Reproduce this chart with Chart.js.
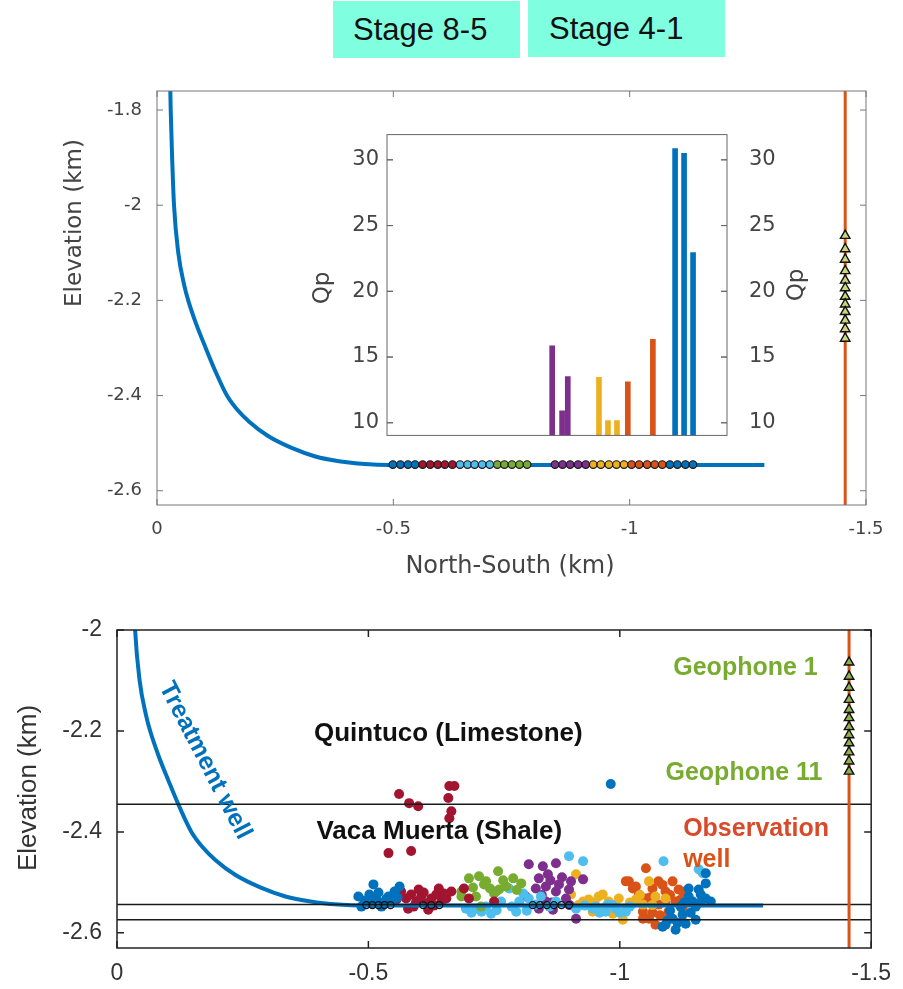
<!DOCTYPE html>
<html>
<head>
<meta charset="utf-8">
<script src="https://cdn.jsdelivr.net/npm/chart.js@4"></script>
<style>
body { margin: 0; background: #fff; }
#page { position: relative; width: 903px; height: 989px; overflow: hidden; background: #fff; }
.stage { position: absolute; background: #7fffdf; color: #111; font: 31px "Liberation Sans", Arial, sans-serif; line-height: 57px; height: 57px; box-sizing: border-box; }
.holder { position: absolute; }
</style>
</head>
<body>
<div id="page">
  <div class="stage" style="left:333px; top:1px; width:187px; padding-left:20px;">Stage 8-5</div>
  <div class="stage" style="left:528px; top:0px; width:197px; padding-left:21px;">Stage 4-1</div>
  <div class="holder" style="left:0; top:60px; width:903px; height:530px;"><canvas id="topChart"></canvas></div>
  <div class="holder" style="left:290px; top:100px; width:530px; height:370px;"><canvas id="insetChart"></canvas></div>
  <div class="holder" style="left:0; top:600px; width:903px; height:389px;"><canvas id="bottomChart"></canvas></div>
</div>

<script>
// ---- data (km) ----

const nsTicks = [0, -0.5, -1, -1.5];
const topElevTicks = [-1.8, -2, -2.2, -2.4, -2.6];
const bottomElevTicks = [-2, -2.2, -2.4, -2.6];
const qpTicks = [10, 15, 20, 25, 30];

// treatment well trajectory
const wellNS   = [-0.027, -0.029, -0.032, -0.036, -0.045, -0.058, -0.066, -0.083, -0.103, -0.124, -0.148, -0.170, -0.195, -0.235, -0.285, -0.335, -0.385, -0.440, -0.490, -1.285];
const wellElev = [-1.70, -1.80, -1.90, -2.00, -2.10, -2.17, -2.20, -2.25, -2.30, -2.35, -2.40, -2.43, -2.455, -2.485, -2.51, -2.528, -2.538, -2.544, -2.546, -2.546];

// perforation clusters along the lateral
const perfElev = -2.545;
const perfNS = [-0.499, -0.515, -0.531, -0.546, -0.562, -0.578, -0.594, -0.609, -0.625, -0.641, -0.657, -0.672, -0.688, -0.704, -0.720, -0.735, -0.751, -0.767, -0.783,
                -0.842, -0.858, -0.874, -0.891, -0.907, -0.923, -0.939, -0.956, -0.972, -0.988, -1.004, -1.020, -1.037, -1.053, -1.069, -1.085, -1.101, -1.118, -1.134];
const perfGroup = ['blue', 'blue', 'blue', 'blue', 'crimson', 'crimson', 'crimson', 'crimson', 'crimson', 'lightblue', 'lightblue', 'lightblue', 'lightblue', 'lightblue', 'green', 'green', 'green', 'green', 'green',
                   'purple', 'purple', 'purple', 'purple', 'purple', 'yellow', 'yellow', 'yellow', 'yellow', 'yellow', 'orange', 'orange', 'orange', 'orange', 'orange', 'blue', 'blue', 'blue', 'blue'];
const perfOpenNS = [-0.496, -0.508, -0.520, -0.532, -0.544, -0.609, -0.625, -0.641, -0.827, -0.841, -0.855, -0.869, -0.884, -0.899];

// Qp per perforation (inset)
const qpNS     = [-0.836, -0.857, -0.869, -0.935, -0.954, -0.973, -0.996, -1.049, -1.096, -1.115, -1.134];
const qpValues = [15.86, 10.91, 13.52, 13.46, 10.16, 10.16, 13.11, 16.34, 30.85, 30.5, 22.94];
const qpGroup  = ['purple', 'purple', 'purple', 'yellow', 'yellow', 'yellow', 'orange', 'orange', 'blue', 'blue', 'blue'];

// observation well and geophones
const obsWellNS = -1.456;
const geophoneElev = [-2.064, -2.092, -2.114, -2.138, -2.158, -2.174, -2.192, -2.208, -2.224, -2.242, -2.260, -2.280];

// formation boundaries
const layerElev = [-2.345, -2.544, -2.574];

// microseismic events [NS, elevation]
const blueEvents = [[-0.480, -2.528], [-0.486, -2.548], [-0.502, -2.524], [-0.506, -2.542], [-0.510, -2.504], [-0.516, -2.532], [-0.526, -2.548], [-0.536, -2.532],
  [-0.540, -2.528], [-0.546, -2.538], [-0.552, -2.518], [-0.562, -2.508], [-0.492, -2.536], [-0.520, -2.520], [-0.530, -2.540], [-0.558, -2.530],
  [-0.982, -2.305],
  [-1.085, -2.588], [-1.091, -2.584], [-1.105, -2.572], [-1.111, -2.594], [-1.121, -2.548], [-1.125, -2.564], [-1.131, -2.582], [-1.137, -2.512], [-1.137, -2.528],
  [-1.145, -2.538], [-1.151, -2.574], [-1.151, -2.548], [-1.157, -2.514], [-1.161, -2.524], [-1.171, -2.502], [-1.171, -2.532], [-1.171, -2.482], [-1.181, -2.538],
  [-1.100, -2.556], [-1.115, -2.580], [-1.141, -2.560], [-1.160, -2.540], [-1.128, -2.540], [-1.095, -2.575]];
const crimsonEvents = [[-0.561, -2.325], [-0.581, -2.343], [-0.599, -2.349], [-0.661, -2.309], [-0.671, -2.309], [-0.659, -2.333], [-0.665, -2.359], [-0.661, -2.373],
  [-0.540, -2.442], [-0.585, -2.438], [-0.556, -2.534], [-0.565, -2.518], [-0.575, -2.532], [-0.579, -2.552], [-0.585, -2.524], [-0.595, -2.538], [-0.605, -2.528],
  [-0.615, -2.542], [-0.619, -2.554], [-0.625, -2.532], [-0.635, -2.524], [-0.645, -2.538], [-0.655, -2.532], [-0.665, -2.518], [-0.690, -2.512], [-0.700, -2.532], [-0.750, -2.538],
  [-0.590, -2.548], [-0.610, -2.520], [-0.630, -2.546], [-0.650, -2.522], [-0.600, -2.514], [-0.640, -2.512]];
const greenEvents = [[-0.685, -2.518], [-0.685, -2.528], [-0.700, -2.492], [-0.714, -2.528], [-0.724, -2.548], [-0.730, -2.504], [-0.734, -2.498], [-0.750, -2.522],
  [-0.758, -2.478], [-0.760, -2.514], [-0.774, -2.508], [-0.788, -2.492], [-0.804, -2.502], [-0.708, -2.510], [-0.742, -2.512], [-0.768, -2.496], [-0.720, -2.488], [-0.795, -2.515]];
const lightBlueEvents = [[-0.694, -2.552], [-0.714, -2.552], [-0.734, -2.548], [-0.744, -2.562], [-0.754, -2.518], [-0.764, -2.538], [-0.780, -2.512], [-0.794, -2.558],
  [-0.800, -2.538], [-0.808, -2.522], [-0.819, -2.532], [-0.833, -2.544], [-0.843, -2.528], [-0.873, -2.538], [-0.899, -2.448], [-0.913, -2.552], [-0.927, -2.458],
  [-0.946, -2.552], [-0.952, -2.548], [-0.972, -2.558], [-0.976, -2.544], [-0.992, -2.552], [-1.012, -2.558], [-1.087, -2.458], [-1.157, -2.474], [-1.165, -2.482],
  [-0.705, -2.560], [-0.725, -2.558], [-0.755, -2.555], [-0.785, -2.548], [-0.815, -2.556], [-0.860, -2.548], [-0.930, -2.546], [-0.960, -2.560], [-0.985, -2.545],
  [-1.000, -2.560], [-1.020, -2.548]];
const purpleEvents = [[-0.813, -2.528], [-0.819, -2.464], [-0.833, -2.512], [-0.839, -2.492], [-0.839, -2.552], [-0.847, -2.468], [-0.853, -2.508], [-0.853, -2.538],
  [-0.857, -2.484], [-0.867, -2.554], [-0.873, -2.462], [-0.873, -2.518], [-0.879, -2.504], [-0.893, -2.532], [-0.899, -2.514], [-0.903, -2.498], [-0.913, -2.572], [-0.927, -2.494],
  [-0.845, -2.525], [-0.862, -2.496], [-0.885, -2.490], [-0.865, -2.540], [-0.900, -2.545]];
const yellowEvents = [[-0.903, -2.524], [-0.913, -2.484], [-0.927, -2.538], [-0.938, -2.534], [-0.946, -2.558], [-0.958, -2.528], [-0.966, -2.524], [-0.978, -2.538],
  [-0.986, -2.562], [-0.998, -2.532], [-1.006, -2.574], [-1.012, -2.552], [-1.032, -2.534], [-1.046, -2.544], [-1.058, -2.498], [-1.071, -2.528], [-1.091, -2.532],
  [-0.918, -2.545], [-0.950, -2.540], [-0.970, -2.550], [-0.990, -2.545], [-1.020, -2.540], [-1.040, -2.525], [-1.065, -2.545]];
const orangeEvents = [[-1.012, -2.498], [-1.018, -2.498], [-1.026, -2.512], [-1.032, -2.508], [-1.038, -2.524], [-1.046, -2.558], [-1.046, -2.572], [-1.052, -2.472],
  [-1.052, -2.532], [-1.058, -2.572], [-1.065, -2.512], [-1.071, -2.584], [-1.077, -2.498], [-1.077, -2.544], [-1.091, -2.518], [-1.091, -2.538], [-1.097, -2.558],
  [-1.105, -2.498], [-1.111, -2.538], [-1.117, -2.514], [-1.125, -2.552], [-1.125, -2.518], [-1.131, -2.524],
  [-1.030, -2.540], [-1.060, -2.530], [-1.085, -2.505], [-1.100, -2.525], [-1.080, -2.565], [-1.065, -2.560], [-1.120, -2.535]];

const colors = {
  blue: '#0072BD', orange: '#D95319', yellow: '#EDB120', purple: '#7E2F8E',
  green: '#77AC30', lightblue: '#4DBEEE', crimson: '#A2142F'
};

// ---- helpers ----

const pts = (xs, ys) => xs.map((x, i) => ({x: x, y: ys[i]}));
const pairs = arr => arr.map(p => ({x: p[0], y: p[1]}));
const fixTicks = vals => scale => { scale.ticks = vals.map(v => ({value: v})); };

// box around the plot area with inward ticks (matlab style)
const boxPlugin = {
  id: 'box',
  afterDatasetsDraw(chart, args, opts) {
    const ctx = chart.ctx, a = chart.chartArea;
    ctx.save();
    ctx.strokeStyle = opts.color;
    ctx.lineWidth = opts.width;
    ctx.strokeRect(a.left, a.top, a.right - a.left, a.bottom - a.top);
    const L = opts.tick;
    ctx.beginPath();
    Object.values(chart.scales).forEach(s => {
      if (!s.options.display) return;
      s.ticks.forEach(t => {
        const p = s.getPixelForValue(t.value);
        if (s.isHorizontal()) {
          if (p < a.left - 0.5 || p > a.right + 0.5) return;
          ctx.moveTo(p, a.bottom); ctx.lineTo(p, a.bottom - L);
          ctx.moveTo(p, a.top); ctx.lineTo(p, a.top + L);
        } else {
          if (p < a.top - 0.5 || p > a.bottom + 0.5) return;
          ctx.moveTo(a.left, p); ctx.lineTo(a.left + L, p);
          ctx.moveTo(a.right, p); ctx.lineTo(a.right - L, p);
        }
      });
    });
    ctx.stroke();
    ctx.restore();
  }
};

// free text: canvas coords, or data coords when data:true
const textPlugin = {
  id: 'texts',
  afterDraw(chart, args, opts) {
    const ctx = chart.ctx;
    (opts.items || []).forEach(t => {
      let x = t.x, y = t.y;
      if (t.data) {
        x = chart.scales.x.getPixelForValue(t.x);
        y = chart.scales.y.getPixelForValue(t.y);
      }
      ctx.save();
      ctx.translate(x, y);
      ctx.rotate((t.rot || 0) * Math.PI / 180);
      ctx.font = t.font;
      ctx.fillStyle = t.color;
      ctx.textAlign = t.align || 'center';
      ctx.textBaseline = 'middle';
      ctx.fillText(t.text, 0, 0);
      ctx.restore();
    });
  }
};

// white background for the inset plot area
const insetBg = {
  id: 'insetBg',
  beforeDatasetsDraw(chart) {
    const a = chart.chartArea, ctx = chart.ctx;
    ctx.save();
    ctx.fillStyle = '#fff';
    ctx.fillRect(a.left, a.top, a.right - a.left, a.bottom - a.top);
    ctx.restore();
  }
};

Chart.defaults.animation = false;
Chart.defaults.plugins.legend.display = false;
Chart.defaults.plugins.tooltip.enabled = false;

const topFont = '"DejaVu Sans", sans-serif';
const botFont = '"Liberation Sans", Arial, sans-serif';

// ---- top panel: well geometry ----

const topCanvas = document.getElementById("topChart");
let topChart = new Chart(topCanvas, {
  type: 'scatter',
  data: {
    datasets: [
      {
        data: pts(geophoneElev.map(() => obsWellNS), geophoneElev),
        pointStyle: 'triangle', pointRadius: 5.5,
        pointBackgroundColor: '#c9d67c', pointBorderColor: '#111', pointBorderWidth: 1.4,
        order: 0
      },
      {
        data: pts(perfNS, perfNS.map(() => perfElev)),
        pointRadius: 3.8, pointBorderWidth: 1.2, pointBorderColor: '#1a1a1a',
        pointBackgroundColor: perfGroup.map(g => colors[g]),
        order: 1
      },
      {
        data: [{x: obsWellNS, y: -1.5}, {x: obsWellNS, y: -2.8}],
        showLine: true, pointRadius: 0, borderColor: colors.orange, borderWidth: 3,
        order: 2
      },
      {
        data: pts(wellNS, wellElev),
        showLine: true, pointRadius: 0, borderColor: colors.blue, borderWidth: 4,
        cubicInterpolationMode: 'monotone',
        order: 3
      }
    ]
  },
  options: {
    responsive: true,
    maintainAspectRatio: false,
    layout: { padding: { top: 31, right: 37, left: 0, bottom: 0 } },
    scales: {
      x: {
        type: 'linear', reverse: true, min: -1.5, max: 0,
        afterBuildTicks: fixTicks(nsTicks),
        afterFit: s => { s.height = 85; },
        grid: { display: false, drawTicks: false }, border: { display: false },
        ticks: { padding: 14, maxRotation: 0, color: '#444', font: { family: topFont, size: 18 }, callback: v => String(v) }
      },
      y: {
        type: 'linear', min: -2.63, max: -1.76,
        afterBuildTicks: fixTicks(topElevTicks),
        afterFit: s => { s.width = 157; },
        grid: { display: false, drawTicks: false }, border: { display: false },
        ticks: { padding: 15, color: '#444', font: { family: topFont, size: 18 }, callback: v => String(v) }
      }
    },
    plugins: {
      box: { color: '#777', width: 1, tick: 6 },
      texts: { items: [
        { text: 'Elevation (km)', x: 75, y: 163, rot: -90, font: '23px ' + topFont, color: '#444' },
        { text: 'North-South (km)', x: 510, y: 507, font: '24px ' + topFont, color: '#444' }
      ] }
    }
  },
  plugins: [boxPlugin, textPlugin]
});

// ---- inset: Qp bars ----

const insetCanvas = document.getElementById("insetChart");
let insetChart = new Chart(insetCanvas, {
  type: 'bar',
  data: {
    datasets: [{
      data: pts(qpNS, qpValues),
      backgroundColor: qpGroup.map(g => colors[g]),
      barThickness: 5,
      yAxisID: 'y'
    }]
  },
  options: {
    responsive: true,
    maintainAspectRatio: false,
    layout: { padding: { top: 16, bottom: 21, left: 0, right: 0 } },
    scales: {
      x: { type: 'linear', reverse: true, offset: false, min: -1.2058, max: -0.4866, display: false },
      y: {
        position: 'left', min: 9.04, max: 31.92,
        afterBuildTicks: fixTicks(qpTicks),
        afterFit: s => { s.width = 97; },
        grid: { display: false, drawTicks: false }, border: { display: false },
        ticks: { padding: 8, color: '#444', font: { family: topFont, size: 21 } }
      },
      y2: {
        position: 'right', min: 9.04, max: 31.92,
        afterBuildTicks: fixTicks(qpTicks),
        afterFit: s => { s.width = 93; },
        grid: { display: false, drawTicks: false }, border: { display: false },
        ticks: { padding: 22, color: '#444', font: { family: topFont, size: 21 } }
      }
    },
    plugins: {
      box: { color: '#666', width: 1, tick: 6 },
      texts: { items: [
        { text: 'Qp', x: 33, y: 188, rot: -90, font: '23px ' + topFont, color: '#444' },
        { text: 'Qp', x: 507, y: 185, rot: -90, font: '23px ' + topFont, color: '#444' }
      ] }
    }
  },
  plugins: [insetBg, boxPlugin, textPlugin]
});

// ---- bottom panel: events and formations ----

const eventSets = [
  [blueEvents, 'blue'], [crimsonEvents, 'crimson'], [greenEvents, 'green'], [lightBlueEvents, 'lightblue'],
  [purpleEvents, 'purple'], [yellowEvents, 'yellow'], [orangeEvents, 'orange']
];

const bottomSets = eventSets.map(e => ({
  data: pairs(e[0]),
  pointRadius: 5, pointBorderWidth: 0,
  pointBackgroundColor: colors[e[1]],
  order: 5
}));

bottomSets.push({
  data: pts(wellNS, wellElev),
  showLine: true, pointRadius: 0, borderColor: colors.blue, borderWidth: 4,
  cubicInterpolationMode: 'monotone', order: 4
});
layerElev.forEach(v => {
  bottomSets.push({
    data: [{x: 0.1, y: v}, {x: -1.6, y: v}],
    showLine: true, pointRadius: 0, borderColor: '#1a1a1a', borderWidth: 1.5, order: 3
  });
});
bottomSets.push({
  data: pts(perfOpenNS, perfOpenNS.map(() => perfElev)),
  pointRadius: 3.5, pointBorderWidth: 1.3, pointBorderColor: '#111', pointBackgroundColor: 'rgba(0,0,0,0)',
  order: 2
});
bottomSets.push({
  data: [{x: obsWellNS, y: -1.9}, {x: obsWellNS, y: -2.8}],
  showLine: true, pointRadius: 0, borderColor: colors.orange, borderWidth: 3, order: 1
});
bottomSets.push({
  data: pts(geophoneElev.map(() => obsWellNS), geophoneElev),
  pointStyle: 'triangle', pointRadius: 5.5,
  pointBackgroundColor: '#8fb04a', pointBorderColor: '#111', pointBorderWidth: 1.4,
  order: 0
});

const bottomCanvas = document.getElementById("bottomChart");
let bottomChart = new Chart(bottomCanvas, {
  type: 'scatter',
  data: { datasets: bottomSets },
  options: {
    responsive: true,
    maintainAspectRatio: false,
    layout: { padding: { top: 30, right: 24, left: 0, bottom: 0 } },
    scales: {
      x: {
        type: 'linear', reverse: true, min: -1.5, max: 0,
        afterBuildTicks: fixTicks(nsTicks),
        afterFit: s => { s.height = 41; },
        grid: { display: false, drawTicks: false }, border: { display: false },
        ticks: { padding: 12, maxRotation: 0, color: '#333', font: { family: botFont, size: 23 }, callback: v => String(v) }
      },
      y: {
        type: 'linear', min: -2.63, max: -2.0,
        afterBuildTicks: fixTicks(bottomElevTicks),
        afterFit: s => { s.width = 117; },
        grid: { display: false, drawTicks: false }, border: { display: false },
        ticks: { padding: 15, color: '#333', font: { family: botFont, size: 23 }, callback: v => String(v) }
      }
    },
    plugins: {
      box: { color: '#222', width: 1.5, tick: 7 },
      texts: { items: [
        { text: 'Elevation (km)', x: 29, y: 188, rot: -90, font: '26px ' + botFont, color: '#333' },
        { text: 'Treatment well', x: -0.175, y: -2.259, data: true, rot: 62.6, font: 'bold 25px ' + botFont, color: colors.blue },
        { text: 'Quintuco (Limestone)', x: -0.659, y: -2.205, data: true, font: 'bold 26px ' + botFont, color: '#111' },
        { text: 'Vaca Muerta (Shale)', x: -0.641, y: -2.400, data: true, font: 'bold 26px ' + botFont, color: '#111' },
        { text: 'Geophone 1', x: -1.250, y: -2.076, data: true, font: 'bold 25px ' + botFont, color: colors.green },
        { text: 'Geophone 11', x: -1.247, y: -2.283, data: true, font: 'bold 25px ' + botFont, color: colors.green },
        { text: 'Observation', x: -1.126, y: -2.394, data: true, align: 'left', font: 'bold 25px ' + botFont, color: '#D94A2A' },
        { text: 'well', x: -1.126, y: -2.456, data: true, align: 'left', font: 'bold 25px ' + botFont, color: colors.orange }
      ] }
    }
  },
  plugins: [boxPlugin, textPlugin]
});
</script>
</body>
</html>
